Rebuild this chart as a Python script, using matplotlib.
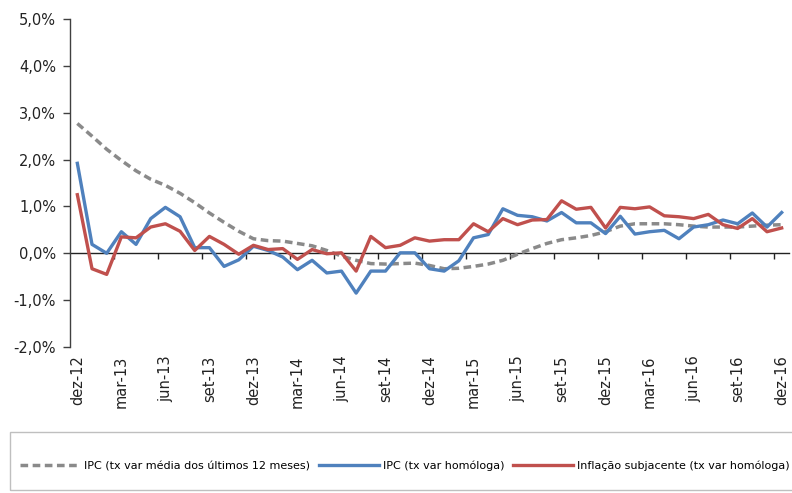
import matplotlib
matplotlib.use("Agg")
import matplotlib.pyplot as plt
from matplotlib.patches import Rectangle
from matplotlib.ticker import FuncFormatter
import numpy as np

months = ["jan", "fev", "mar", "abr", "mai", "jun", "jul", "ago", "set", "out", "nov", "dez"]
categories = ["dez-12"] + [f"{m}-{yr}" for yr in range(13, 17) for m in months]

ipc_media12 = [2.77, 2.50, 2.22, 1.98, 1.76, 1.58, 1.45, 1.28, 1.08, 0.86, 0.66, 0.47,
               0.31, 0.27, 0.26, 0.21, 0.16, 0.06, -0.06, -0.15, -0.22, -0.23, -0.22, -0.21,
               -0.26, -0.33, -0.32, -0.28, -0.23, -0.15, -0.02, 0.10, 0.21, 0.29, 0.33, 0.38,
               0.46, 0.58, 0.63, 0.63, 0.63, 0.61, 0.58, 0.56, 0.56, 0.56, 0.58, 0.60, 0.61]
ipc_homologa = [1.92, 0.19, 0.00, 0.46, 0.19, 0.74, 0.98, 0.78, 0.12, 0.12, -0.28, -0.14,
                0.15, 0.06, -0.08, -0.35, -0.15, -0.42, -0.38, -0.85, -0.38, -0.38, 0.01, 0.01,
                -0.33, -0.38, -0.16, 0.33, 0.40, 0.95, 0.81, 0.78, 0.69, 0.87, 0.65, 0.65,
                0.42, 0.79, 0.41, 0.46, 0.49, 0.31, 0.56, 0.61, 0.71, 0.63, 0.86, 0.56, 0.87]
inflacao_subjacente = [1.25, -0.33, -0.45, 0.35, 0.33, 0.56, 0.63, 0.47, 0.06, 0.36, 0.19, -0.02,
                       0.17, 0.08, 0.10, -0.13, 0.08, -0.01, 0.01, -0.38, 0.36, 0.12, 0.17, 0.33,
                       0.26, 0.29, 0.29, 0.63, 0.46, 0.74, 0.61, 0.71, 0.72, 1.12, 0.94, 0.98,
                       0.54, 0.98, 0.95, 0.99, 0.80, 0.78, 0.74, 0.83, 0.61, 0.53, 0.74, 0.46, 0.54]

series_labels = ["IPC (tx var média dos últimos 12 meses)",
                 "IPC (tx var homóloga)",
                 "Inflação subjacente (tx var homóloga)"]
colors = ["#8A8A8A", "#4F81BD", "#C0504D"]

fig = plt.figure(figsize=(7.92, 4.93), dpi=100)
ax = fig.add_axes([70/792, 1-347/493, 719/792, 328/493])

x = np.arange(len(categories))
h1, = ax.plot(x, ipc_media12, color=colors[0], lw=2.5, ls=(0, (2.2, 1.3)))
h2, = ax.plot(x, ipc_homologa, color=colors[1], lw=2.4)
h3, = ax.plot(x, inflacao_subjacente, color=colors[2], lw=2.4)

ymin, ymax = -2, 5
ax.set_ylim(ymin, ymax)
ax.set_xlim(-0.5, len(categories) - 0.5)
ax.set_yticks(np.arange(ymin, ymax + 1, 1))
ax.yaxis.set_major_formatter(FuncFormatter(lambda v, p: f"{v:.1f}%".replace(".", ",")))

for s in ["top", "right", "bottom"]:
    ax.spines[s].set_visible(False)
ax.spines["left"].set_color("#404040")
ax.spines["left"].set_linewidth(1.0)

ax.set_xticks(x[::3])
ax.set_xticklabels(categories[::3], rotation=90)
ax.tick_params(axis="x", length=0, pad=6, labelsize=10.5, labelcolor="#222222")
ax.tick_params(axis="y", length=5, width=1, color="#404040", labelsize=10.5, labelcolor="#222222", pad=5)

# zero line with tick marks between categories
sec = ax.secondary_xaxis((0 - ymin) / (ymax - ymin))
sec.set_xticks(np.arange(2.5, len(categories) - 0.5, 3))
sec.tick_params(axis="x", length=4, width=1, color="#222222", labelbottom=False, labeltop=False)
for sp in sec.spines.values():
    sp.set_color("#222222")
    sp.set_linewidth(1.0)

# legend box
fig.patches.append(Rectangle((10/792, 3/493), 1.0, 58/493, transform=fig.transFigure,
                             fill=False, edgecolor="#BFBFBF", lw=1.0))
fig.legend([h1, h2, h3], series_labels, loc="center", bbox_to_anchor=(0.511, 0.055),
           ncol=3, frameon=False, fontsize=8, handlelength=5.4, handletextpad=0.35,
           columnspacing=0.8)

fig.savefig("out.png", dpi=100)
